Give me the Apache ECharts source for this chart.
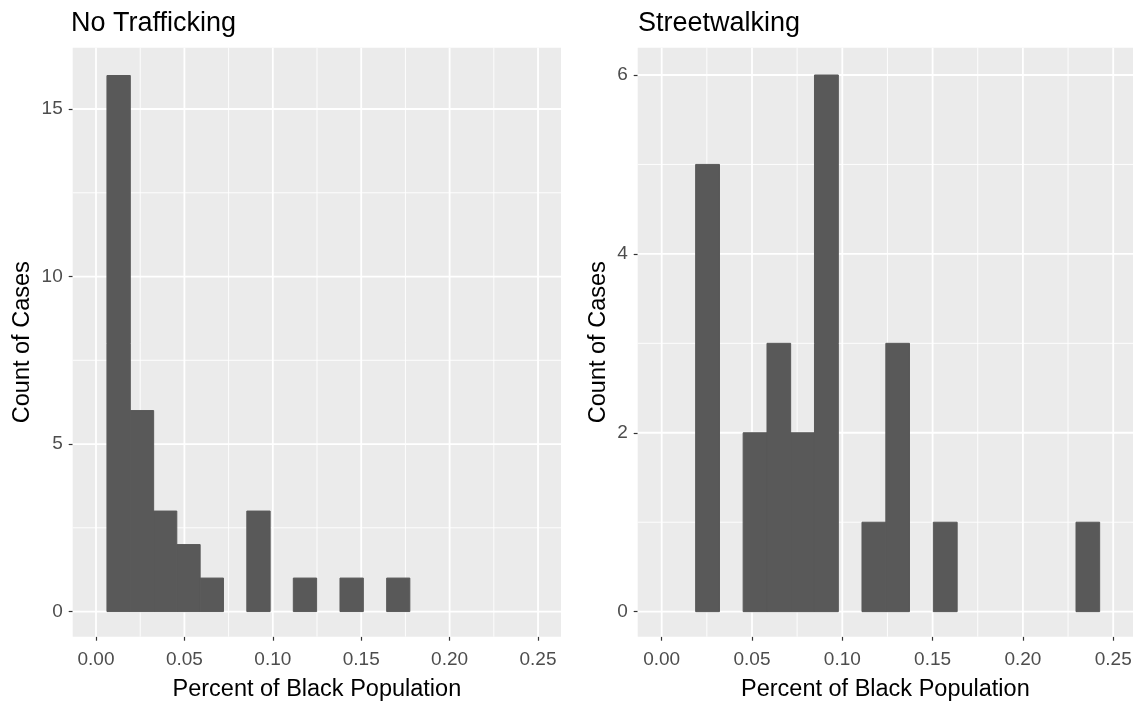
<!DOCTYPE html>
<html>
<head>
<meta charset="utf-8">
<script src="https://cdn.jsdelivr.net/npm/echarts@6/dist/echarts.min.js"></script>
<style>html,body{margin:0;padding:0;background:#fff;}#c{width:1142px;height:702px;}</style>
</head>
<body>
<div id="c"></div>
<script>
// ---- data ----
const leftTitle = 'No Trafficking';
const rightTitle = 'Streetwalking';
const xTitle = 'Percent of Black Population';
const yTitle = 'Count of Cases';

const leftBinStart = [0.0062, 0.0194, 0.0326, 0.0457, 0.0589, 0.0853, 0.1116, 0.1380, 0.1644];
const leftBinEnd   = [0.0194, 0.0326, 0.0457, 0.0589, 0.0721, 0.0985, 0.1248, 0.1512, 0.1775];
const leftCounts   = [16, 6, 3, 2, 1, 3, 1, 1, 1];

const rightBinStart = [0.0188, 0.0451, 0.0583, 0.0714, 0.0846, 0.1109, 0.1241, 0.1504, 0.2294];
const rightBinEnd   = [0.0320, 0.0583, 0.0714, 0.0846, 0.0978, 0.1241, 0.1372, 0.1636, 0.2425];
const rightCounts   = [5, 2, 3, 2, 6, 1, 3, 1, 1];

const xTicks = [0, 0.05, 0.10, 0.15, 0.20, 0.25];
const xMinor = [0.025, 0.075, 0.125, 0.175, 0.225];
const leftYTicks = [0, 5, 10, 15];
const leftYMinor = [2.5, 7.5, 12.5];
const rightYTicks = [0, 2, 4, 6];
const rightYMinor = [1, 3, 5];

// ---- styling ----
const FONT = 'Liberation Sans, Arial, sans-serif';
const PANEL = '#EBEBEB';
const BAR = '#595959';

function bars(starts, ends, counts) {
  return starts.map((s, i) => [s, ends[i], counts[i]]);
}
// dir: 0 = vertical line at x value, 1 = horizontal line at y value; weight: 0 minor, 1 major
function gridLines(xMaj, xMin, yMaj, yMin) {
  const out = [];
  xMin.forEach(v => out.push([0, v, 0]));
  yMin.forEach(v => out.push([1, v, 0]));
  xMaj.forEach(v => out.push([0, v, 1]));
  yMaj.forEach(v => out.push([1, v, 1]));
  return out;
}
function renderGrid(params, api) {
  const cs = params.coordSys;
  const dir = api.value(0);
  const v = api.value(1);
  const major = api.value(2);
  let shape;
  if (dir === 0) {
    const px = api.coord([v, 0])[0];
    shape = { x1: px, y1: cs.y, x2: px, y2: cs.y + cs.height };
  } else {
    const py = api.coord([0, v])[1];
    shape = { x1: cs.x, y1: py, x2: cs.x + cs.width, y2: py };
  }
  return {
    type: 'line', shape: shape,
    style: { stroke: '#FFFFFF', lineWidth: major ? 1.8 : 0.9 }
  };
}
function renderBar(params, api) {
  const p0 = api.coord([api.value(0), api.value(2)]);
  const p1 = api.coord([api.value(1), 0]);
  return {
    type: 'rect',
    shape: { x: p0[0], y: p0[1], width: p1[0] - p0[0], height: p1[1] - p0[1] },
    style: { fill: BAR, stroke: BAR, lineWidth: 1 }
  };
}
function xAxisDef(idx, min, max) {
  return {
    type: 'value', gridIndex: idx, min: min, max: max,
    name: xTitle, nameLocation: 'middle', nameGap: 41,
    nameTextStyle: { fontFamily: FONT, fontSize: 23.5, color: '#000' },
    splitLine: { show: false },
    axisLine: { show: false, onZero: false },
    axisTick: { show: true, length: 4, customValues: xTicks, lineStyle: { color: '#333333', width: 1.2 } },
    axisLabel: { customValues: xTicks, formatter: v => v.toFixed(2), fontFamily: FONT, fontSize: 19, color: '#4D4D4D', margin: 14 }
  };
}
function yAxisDef(idx, min, max, ticks, gap) {
  return {
    type: 'value', gridIndex: idx, min: min, max: max,
    name: yTitle, nameLocation: 'middle', nameGap: gap,
    nameTextStyle: { fontFamily: FONT, fontSize: 23.5, color: '#000' },
    splitLine: { show: false },
    axisLine: { show: false, onZero: false },
    axisTick: { show: true, length: 4, customValues: ticks, lineStyle: { color: '#333333', width: 1.2 } },
    axisLabel: { customValues: ticks, fontFamily: FONT, fontSize: 19, color: '#4D4D4D', margin: 10 }
  };
}

const chart = echarts.init(document.getElementById('c'), null, { renderer: 'canvas' });
chart.setOption({
  backgroundColor: '#FFFFFF',
  animation: false,
  title: [
    { text: leftTitle, left: 71, top: 10, padding: 0, textStyle: { fontFamily: FONT, fontSize: 27, fontWeight: 'normal', color: '#000' } },
    { text: rightTitle, left: 638, top: 10, padding: 0, textStyle: { fontFamily: FONT, fontSize: 27, fontWeight: 'normal', color: '#000' } }
  ],
  grid: [
    { left: 72.7, top: 47.7, width: 488.3, height: 589, show: true, backgroundColor: PANEL, borderWidth: 0, containLabel: false, outerBoundsMode: 'none' },
    { left: 637.7, top: 47.7, width: 495.3, height: 589, show: true, backgroundColor: PANEL, borderWidth: 0, containLabel: false, outerBoundsMode: 'none' }
  ],
  xAxis: [xAxisDef(0, -0.01318, 0.263), xAxisDef(1, -0.01329, 0.26096)],
  yAxis: [yAxisDef(0, -0.75, 16.83, leftYTicks, 38), yAxisDef(1, -0.28, 6.305, rightYTicks, 27.5)],
  series: [
    { type: 'custom', xAxisIndex: 0, yAxisIndex: 0, renderItem: renderGrid, data: gridLines(xTicks, xMinor, leftYTicks, leftYMinor), z: 1, silent: true },
    { type: 'custom', xAxisIndex: 1, yAxisIndex: 1, renderItem: renderGrid, data: gridLines(xTicks, xMinor, rightYTicks, rightYMinor), z: 1, silent: true },
    { type: 'custom', xAxisIndex: 0, yAxisIndex: 0, renderItem: renderBar, data: bars(leftBinStart, leftBinEnd, leftCounts), z: 2 },
    { type: 'custom', xAxisIndex: 1, yAxisIndex: 1, renderItem: renderBar, data: bars(rightBinStart, rightBinEnd, rightCounts), z: 2 }
  ]
});
</script>
</body>
</html>
